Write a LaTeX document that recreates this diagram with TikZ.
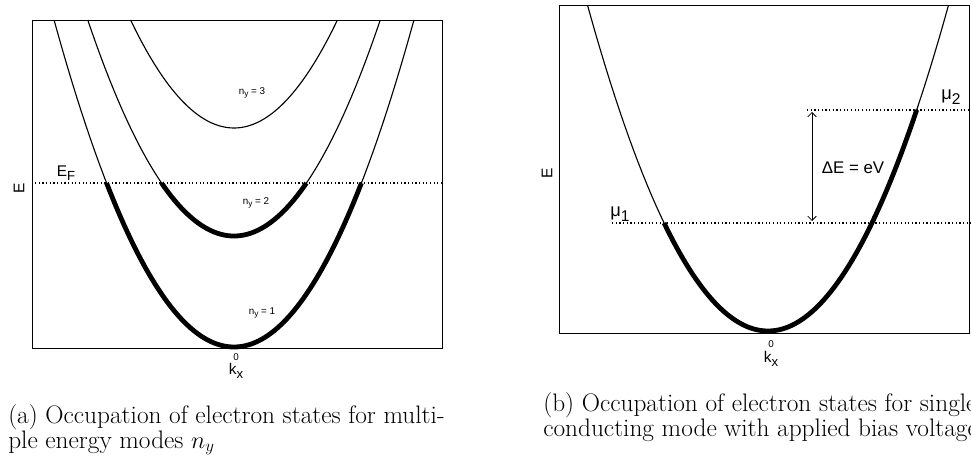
\documentclass[tikz,border=0pt]{standalone}
\usepackage{fontspec}
\usepackage{graphicx}
\newfontfamily\plotfont{Liberation Sans}
\usetikzlibrary{arrows.meta}
\newcommand{\lowsub}[1]{\raisebox{-0.5ex}{\scalebox{0.85}{#1}}}
\begin{document}
\begin{tikzpicture}[x=0.025cm, y=-0.025cm,
    frame/.style={line width=0.6pt},
    band/.style={line width=0.8pt},
    filled/.style={line width=3.4pt},
    level/.style={line width=0.9pt, dash pattern=on 0.9pt off 1.7pt},
    small/.style={font=\plotfont\fontsize{7}{8}\selectfont, inner sep=1pt},
    big/.style={font=\plotfont\fontsize{11}{13}\selectfont, inner sep=1pt},
    caption/.style={font=\fontsize{18}{20}\selectfont, inner sep=0pt, anchor=base west}]
    \useasboundingbox (0,0) rectangle (971,466);
    \clip (0,0) rectangle (971,466);
    % Left panel: several modes
    \draw[frame] (32,20) rectangle (442,348);
    \draw[level] (35,183) -- (441,183);
    \draw[band, domain=-179.9:179.9, samples=80] plot ({234+\x},{347-(0.1005*\x)*(0.1005*\x)});
    \draw[band, domain=-146.2:146.2, samples=80] plot ({234+\x},{236-(0.1005*\x)*(0.1005*\x)});
    \draw[band, domain=-103.4:103.4, samples=80] plot ({234+\x},{128-(0.1005*\x)*(0.1005*\x)});
    % occupied states below E_F
    \draw[filled, domain=-127.4:127.4, samples=80] plot ({234+\x},{347-(0.1005*\x)*(0.1005*\x)});
    \draw[filled, domain=-72.4:72.4, samples=60] plot ({234+\x},{236-(0.1005*\x)*(0.1005*\x)});
    % Labels
    \node[big, rotate=90] (Ea) at (19,188) {E};
    \node[big] (EF) at (66,173) {E\lowsub{F}};
    \node[small] (n3) at (252,93) {n\lowsub{y} = 3};
    \node[small] (n2) at (256,203) {n\lowsub{y} = 2};
    \node[small] (n1) at (262,313) {n\lowsub{y} = 1};
    \node[small] (zeroa) at (236,357) {0};
    \node[big] (kxa) at (236,371) {k\lowsub{x}};
    % Right panel: one mode with bias
    \draw[frame] (559,5) rectangle (969,333);
    \draw[level] (612,223) -- (971,223);
    \draw[level] (807,110) -- (971,110);
    \draw[band, domain=-180.5:180.5, samples=80] plot ({768+\x},{331-(0.1*\x)*(0.1*\x)});
    \draw[filled, domain=-103.9:148.7, samples=80] plot ({768+\x},{331-(0.1*\x)*(0.1*\x)});
    \coordinate (mutop) at (812,112);
    \coordinate (mubot) at (812,221);
    \draw[line width=0.6pt, {Straight Barb[length=3pt]}-{Straight Barb[length=3pt]}] (mutop) -- (mubot);
    % Labels
    \node[big, rotate=90] (Eb) at (547,173) {E};
    \node[big, font=\plotfont\fontsize{12}{14}\selectfont] (dE) at (853,168) {ΔE = eV};
    \node[big, font=\plotfont\fontsize{13}{15}\selectfont] (mu1) at (620,214) {μ\lowsub{1}};
    \node[big, font=\plotfont\fontsize{13}{15}\selectfont] (mu2) at (951,97) {μ\lowsub{2}};
    \node[small] (zerob) at (771,344) {0};
    \node[big] (kxb) at (771,359) {k\lowsub{x}};
    % Captions
    \node[caption] (capa1) at (8,423) {(a) Occupation of electron states for multi-};
    \node[caption] (capa2) at (8,448) {ple energy modes $n_y$};
    \node[caption] (capb1) at (543,411) {(b) Occupation of electron states for single};
    \node[caption] (capb2) at (543,436) {conducting mode with applied bias voltage};
\end{tikzpicture}
\end{document}
